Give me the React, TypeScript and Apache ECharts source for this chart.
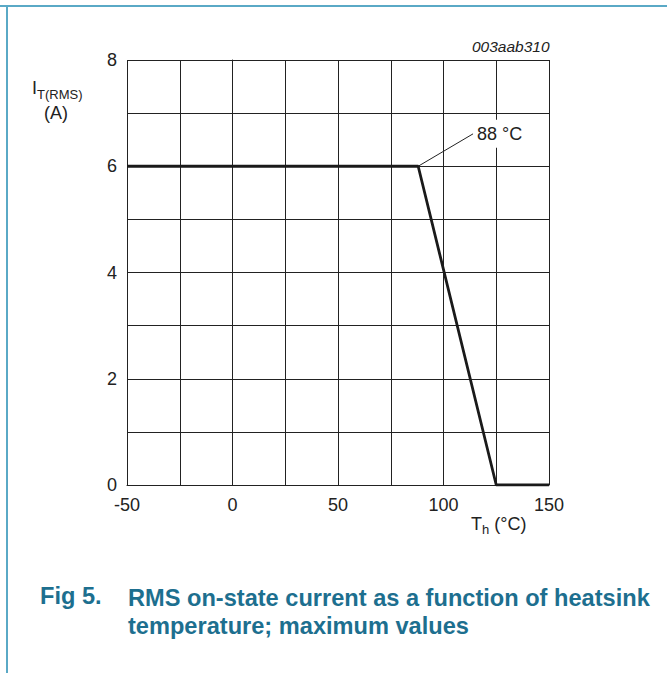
import React, { useEffect, useRef } from "react";
import * as echarts from "echarts";

const temps = [-50, 88, 125, 150];
const currents = [6, 6, 0, 0];
const leaderPts = [[88, 6], [114, 6.61]];
const leaderLabel = "88 °C";
const xTickLabels = [-50, 0, 50, 100, 150];
const yTickLabels = [0, 2, 4, 6, 8];
const figNo = "Fig 5.";
const titleLines = ["RMS on-state current as a function of heatsink", "temperature; maximum values"];
const code = "003aab310";

export default function App() {
  const ref = useRef<HTMLDivElement>(null);
  useEffect(() => {
    const chart = echarts.init(ref.current!, null, { renderer: "svg" });
    const font = "Liberation Sans, Arial, sans-serif";
    const teal = "#1d6f8f";
    chart.setOption({
      animation: false,
      backgroundColor: "#fff",
      grid: { left: 127, top: 60, right: 118, bottom: 188, containLabel: false },
      xAxis: {
        type: "value",
        min: -50,
        max: 150,
        interval: 25,
        axisLine: { show: true, lineStyle: { color: "#222", width: 1 } },
        axisTick: { show: false },
        splitLine: { show: true, lineStyle: { color: "#222", width: 1 } },
        axisLabel: {
          color: "#222",
          fontSize: 18,
          fontFamily: font,
          margin: 11,
          formatter: (v: number) => (xTickLabels.includes(v) ? String(v) : ""),
        },
      },
      yAxis: {
        type: "value",
        min: 0,
        max: 8,
        interval: 1,
        axisLine: { show: true, lineStyle: { color: "#222", width: 1 } },
        axisTick: { show: false },
        splitLine: { show: true, lineStyle: { color: "#222", width: 1 } },
        axisLabel: {
          color: "#222",
          fontSize: 18,
          fontFamily: font,
          margin: 10,
          formatter: (v: number) => (yTickLabels.includes(v) ? String(v) : ""),
        },
      },
      series: [
        {
          type: "line",
          data: temps.map((t, i) => [t, currents[i]]),
          symbol: "none",
          lineStyle: { color: "#1a1a1a", width: 2.8 },
          z: 5,
        },
        {
          type: "line",
          data: leaderPts,
          symbol: "none",
          lineStyle: { color: "#222", width: 1 },
          z: 4,
          endLabel: {
            show: true,
            formatter: leaderLabel,
            color: "#222",
            fontSize: 18,
            fontFamily: font,
            backgroundColor: "#fff",
            padding: [5, 3, 5, 3],
            distance: 1,
          },
        },
      ],
      graphic: [
        { type: "rect", shape: { x: 0, y: 5, width: 667, height: 2 }, style: { fill: "#5aa9c6" }, silent: true },
        { type: "rect", shape: { x: 6, y: 5, width: 2, height: 668 }, style: { fill: "#5aa9c6" }, silent: true },
        {
          type: "text",
          left: 472,
          top: 38,
          style: { text: code, fontSize: 15.5, fontStyle: "italic", fontFamily: font, fill: "#222" },
        },
        {
          type: "text",
          left: 32,
          top: 79,
          style: {
            text: "{a|I}{s|T(RMS)}",
            fontFamily: font,
            fill: "#222",
            rich: {
              a: { fontSize: 18, fontFamily: font, fill: "#222", verticalAlign: "top", lineHeight: 21 },
              s: { fontSize: 13, fontFamily: font, fill: "#222", padding: [9, 0, 0, 0], verticalAlign: "top", lineHeight: 21 },
            },
          },
        },
        {
          type: "text",
          left: 44,
          top: 104,
          style: { text: "(A)", fontSize: 18, fontFamily: font, fill: "#222" },
        },
        {
          type: "text",
          left: 471,
          top: 515,
          style: {
            text: "{a|T}{s|h}{a| (°C)}",
            fontFamily: font,
            fill: "#222",
            rich: {
              a: { fontSize: 18, fontFamily: font, fill: "#222", verticalAlign: "top", lineHeight: 23 },
              s: { fontSize: 13, fontFamily: font, fill: "#222", padding: [8, 0, 0, 0], verticalAlign: "top", lineHeight: 23 },
            },
          },
        },
        {
          type: "text",
          left: 40,
          top: 584,
          style: { text: figNo, fontSize: 23.6, fontWeight: "bold", fontFamily: font, fill: teal },
        },
        {
          type: "text",
          left: 128,
          top: 584,
          style: { text: titleLines.join("\n"), fontSize: 23.6, lineHeight: 28, fontWeight: "bold", fontFamily: font, fill: teal },
        },
      ],
    });
    return () => chart.dispose();
  }, []);
  return <div ref={ref} style={{ position: "absolute", left: 0, top: 0, width: 667, height: 673 }} />;
}
